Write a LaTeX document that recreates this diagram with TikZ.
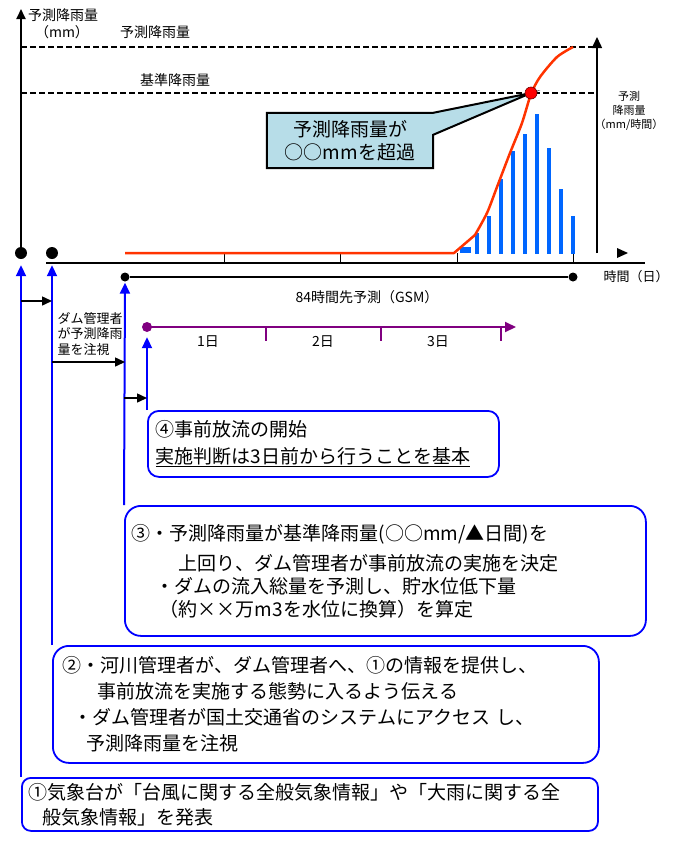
\documentclass[tikz,border=0pt]{standalone}
\usepackage{fontspec}
\setmainfont{Noto Sans CJK JP}
\usetikzlibrary{arrows.meta,backgrounds,calc}
\definecolor{barblue}{RGB}{0,102,255}
\definecolor{curvered}{RGB}{255,51,0}
\definecolor{tlpurple}{RGB}{128,0,128}
\definecolor{callfill}{RGB}{183,221,232}
\definecolor{boxblue}{RGB}{0,0,255}
\newcommand{\myfs}[2]{\fontsize{#1}{#2}\selectfont}
\begin{document}
\begin{tikzpicture}[x=1pt,y=-1pt,
  axisline/.style={line width=1.8pt},
  thinaxis/.style={line width=1.5pt},
  tickmark/.style={line width=1pt},
  guide/.style={line width=1.2pt, dash pattern=on 6pt off 3pt},
  bigdot/.style={circle, fill=black, inner sep=0pt, minimum size=12pt},
  smalldot/.style={circle, fill=black, inner sep=0pt, minimum size=9pt},
  lbl/.style={font=\myfs{14}{16}, inner sep=0pt},
  barrow/.style={draw=boxblue, line width=2pt, -{Triangle[width=10pt,length=11pt]}},
  karrow/.style={draw=black, line width=1.5pt, -{Triangle[width=9pt,length=10pt]}},
  infobox/.style={draw=boxblue, line width=1.8pt, anchor=north west, align=left, inner ysep=0pt},
  tl/.style={draw=tlpurple, line width=2pt},
  bar/.style={fill=barblue},
]
\useasboundingbox (0,0) rectangle (677,844);

% ---- axes ----
\node[bigdot] (d1) at (21,253) {};
\node[circle, fill=black, inner sep=0pt, minimum width=10pt, minimum height=12pt] (d2) at (52,253) {};
\coordinate (ytop) at (21,9);
\draw[axisline, -{Triangle[width=9pt,length=10pt]}] (d1.center) -- (ytop);
\node[lbl, anchor=west] (ylab) at (28,15) {予測降雨量};
\node[lbl] (yunit) at (62,32) {（mm）};

\coordinate (xa) at (46,263);
\coordinate (xb) at (645,263);
\draw[thinaxis] (xa) -- (xb);
\foreach \tx in {224,340,457,573} \draw[tickmark] (\tx,253) -- (\tx,263);
\node[font=\myfs{13}{15}, inner sep=0pt] (xlab) at (636,277) {時間（日）};

\coordinate (rbase) at (597,253);
\coordinate (rtop) at (597,37);
\draw[thinaxis, -{Triangle[width=10pt,length=11pt]}] (rbase) -- (rtop);
\fill (617,248) -- (628,253) -- (617,258) -- cycle;
\node[font=\myfs{11}{14}, align=center, inner sep=0pt] (rlab) at (629,111) {予測\\降雨量\\（mm/時間）};

% ---- guide lines ----
\draw[guide] (21,47) -- (597,47);
\draw[guide] (21,93) -- (597,93);
\node[lbl] (lab1) at (155,32) {予測降雨量};
\node[lbl] (lab2) at (175,80) {基準降雨量};

% ---- bars ----
\fill[bar] (460,247) rectangle (471,253);
\foreach \bx/\bt in {477/233,489/216,501/179,513/151,525/134,537/114,549/148,561/189,573/216}
  \fill[bar] (\bx-2.3,\bt) rectangle (\bx+2.3,254);

% ---- red curve ----
\draw[curvered, line width=2.5pt, line join=round] (125,253) -- (454,253) -- (475,235)
  plot[smooth, tension=0.45] coordinates {(475,235) (487,213) (497,187) (510,153) (522,123) (531,94) (540,77) (557,57) (573,47)};

% ---- callout ----
\node[font=\myfs{19}{23}, align=center, minimum width=166pt, minimum height=55pt, inner sep=0pt] (co) at (350,140.5) {予測降雨量が\\○○mmを超過};
\node[circle, fill=red, draw=red!45!black, line width=0.6pt, minimum size=12pt, inner sep=0pt] (rd) at (531,93) {};
\begin{scope}[on background layer]
\draw[fill=callfill, draw=black, line width=2pt, line join=miter]
  (co.north west) -- (co.north east) -- (rd.center) -- ([yshift=-22pt]co.north east)
  -- (co.south east) -- (co.south west) -- cycle;
\end{scope}

% ---- 84h forecast ----
\node[smalldot] (g1) at (125,277) {};
\node[smalldot] (g2) at (573,277) {};
\draw[thinaxis] (g1) -- (g2);
\node[lbl] (gsm) at (367,297) {84時間先予測（GSM）};

% ---- purple timeline ----
\node[circle, fill=tlpurple, inner sep=0pt, minimum size=10pt] (p1) at (147,327) {};
\coordinate (ptip) at (516,327);
\draw[tl, -{Triangle[width=10pt,length=11pt]}] (p1.center) -- (ptip);
\foreach \tx in {266,381,501} \draw[tl] (\tx,327) -- (\tx,341);
\node[lbl] (day1) at (208,342) {1日};
\node[lbl] (day2) at (323,342) {2日};
\node[lbl] (day3) at (438,342) {3日};

% ---- boxes ----
\node[infobox, rounded corners=11pt, minimum width=351pt, minimum height=66pt, inner xsep=8pt, text width=335pt, font=\myfs{19}{24}] (b4) at (147,410)
  {④事前放流の開始\\[3pt]\underline{実施判断は3日前から行うことを基本}};

\node[infobox, rounded corners=16pt, minimum width=521pt, minimum height=130pt, inner xsep=7pt, text width=507pt, font=\myfs{19}{23}] (b3) at (124,505)
  {③・予測降雨量が基準降雨量(○○mm/▲日間)を\\[7pt]
   \hspace*{47pt}上回り、ダム管理者が事前放流の実施を決定\\
   \hspace*{24pt}・ダムの流入総量を予測し、貯水位低下量\\
   \hspace*{28pt}（約××万m3を水位に換算）を算定};

\node[infobox, rounded corners=16pt, minimum width=546pt, minimum height=117pt, inner xsep=10pt, text width=526pt, font=\myfs{19}{26}] (b2) at (52,645)
  {②・河川管理者が、ダム管理者へ、①の情報を提供し、\\
   \hspace*{35pt}事前放流を実施する態勢に入るよう伝える\\
   \hspace*{11pt}・ダム管理者が国土交通省のシステムにアクセス し、\\
   \hspace*{24pt}予測降雨量を注視};

\node[infobox, rounded corners=9pt, minimum width=576pt, minimum height=53pt, inner xsep=7pt, text width=562pt, font=\myfs{19}{25}] (b1) at (21,777)
  {①気象台が「台風に関する全般気象情報」や「大雨に関する全\\
   \hspace*{14pt}般気象情報」を発表};

% ---- blue connectors ----
\draw[barrow, shorten >=6pt] (b1.north west) -- (d1.south);
\draw[barrow, shorten >=6pt] (b2.north west) -- (d2.south);
\draw[barrow, shorten >=1pt] (b3.north west) -- (g1.south);
\draw[barrow, shorten >=5pt] (b4.north west) -- (p1.south);

% ---- black step arrows ----
\coordinate (s1) at (21,301);
\coordinate (s2) at (52,362);
\coordinate (s3) at (124,398);
\draw[karrow] (s1) -- (s1 -| d2);
\draw[karrow] (s2) -- (s2 -| g1);
\draw[karrow] (s3) -- (s3 -| p1);
\node[font=\myfs{13}{15.5}, align=left, inner sep=0pt, anchor=center] (note) at (90,334) {ダム管理者\\が予測降雨\\量を注視};
\end{tikzpicture}
\end{document}
